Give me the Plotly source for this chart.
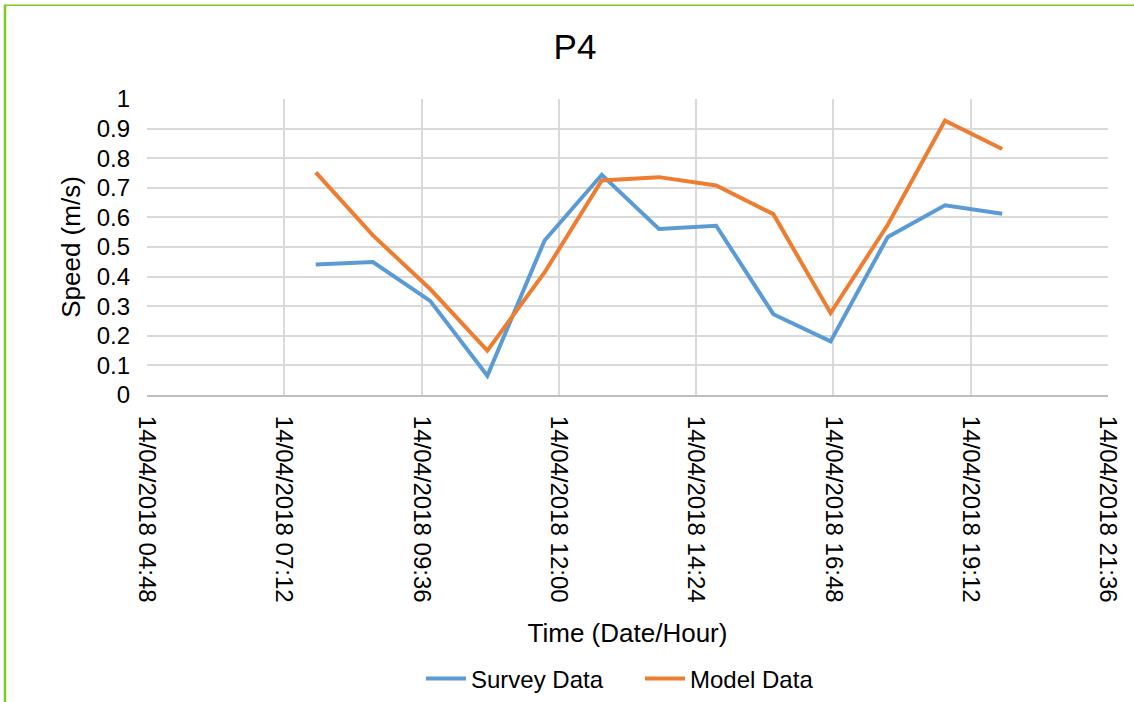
import plotly.graph_objects as go

# Hourly observation times on 14/04/2018
times = [
    "2018-04-14 07:45", "2018-04-14 08:45", "2018-04-14 09:45", "2018-04-14 10:45",
    "2018-04-14 11:45", "2018-04-14 12:45", "2018-04-14 13:45", "2018-04-14 14:45",
    "2018-04-14 15:45", "2018-04-14 16:45", "2018-04-14 17:45", "2018-04-14 18:45",
    "2018-04-14 19:45",
]
survey_speed = [0.441, 0.449, 0.318, 0.065, 0.522, 0.744, 0.561, 0.572,
                0.273, 0.181, 0.534, 0.641, 0.612]
model_speed = [0.752, 0.539, 0.358, 0.150, 0.414, 0.725, 0.736, 0.708,
               0.611, 0.277, 0.575, 0.927, 0.831]

x_start = "2018-04-14 04:48"
x_end = "2018-04-14 21:36"
tick_step_ms = 144 * 60 * 1000  # 2 h 24 min

W, H = 1134, 702
L, R, T, B = 147, 26, 99, 307
plot_w = W - L - R
plot_h = H - T - B


def px_x(p):
    return (p - L) / plot_w


def px_y(p):
    return (H - B - p) / plot_h


FONT = "Liberation Sans, Arial, sans-serif"
GREEN = "#7DCB1E"

fig = go.Figure()
fig.add_trace(go.Scatter(
    x=times, y=survey_speed, mode="lines", name="Survey Data",
    line=dict(color="#5B9BD5", width=4),
))
fig.add_trace(go.Scatter(
    x=times, y=model_speed, mode="lines", name="Model Data",
    line=dict(color="#ED7D31", width=4),
))

# Thin green frame along the top and left edges
fig.add_shape(type="line", xref="paper", yref="paper",
              x0=px_x(4), x1=px_x(W + 5), y0=px_y(5.3), y1=px_y(5.3),
              line=dict(color=GREEN, width=1.5), layer="above")
fig.add_shape(type="line", xref="paper", yref="paper",
              x0=px_x(5), x1=px_x(5), y0=px_y(5), y1=px_y(H + 5),
              line=dict(color=GREEN, width=2.5), layer="above")

fig.update_layout(
    width=W, height=H,
    margin=dict(l=L, r=R, t=T, b=B),
    paper_bgcolor="white", plot_bgcolor="white",
    font=dict(family=FONT, color="#000000", size=24),
    title=dict(text="P4", x=575 / W, xanchor="center",
               y=1 - 47 / H, yanchor="middle", yref="container",
               font=dict(size=35, family=FONT, color="#000000")),
    showlegend=True,
    legend=dict(orientation="h", x=px_x(640), xanchor="center",
                yref="container", y=1 - 679 / H, yanchor="middle",
                font=dict(size=24, family=FONT, color="#000000"),
                bgcolor="rgba(0,0,0,0)", itemwidth=40,
                entrywidth=164, entrywidthmode="pixels"),
)

fig.update_xaxes(
    type="date",
    range=[x_start, x_end],
    tick0=x_start, dtick=tick_step_ms,
    tickformat="%d/%m/%Y %H:%M",
    tickangle=90,
    ticks="", ticklabelstandoff=14,
    tickfont=dict(size=24, family=FONT, color="#000000"),
    showgrid=True, gridcolor="#D9D9D9", gridwidth=2,
    showline=True, linecolor="#BFBFBF", linewidth=2,
    zeroline=False,
    title=dict(text="Time (Date/Hour)", standoff=22,
               font=dict(size=26, family=FONT, color="#000000")),
    automargin=False,
)
fig.update_yaxes(
    range=[0, 1], dtick=0.1, tick0=0,
    tickformat="~g",
    ticks="", ticklabelstandoff=16,
    tickfont=dict(size=24, family=FONT, color="#000000"),
    showgrid=True, gridcolor="#D9D9D9", gridwidth=2,
    showline=False, zeroline=False,
    title=dict(text="Speed (m/s)", standoff=8,
               font=dict(size=26, family=FONT, color="#000000")),
    automargin=False,
)

fig.write_html("out.html")
